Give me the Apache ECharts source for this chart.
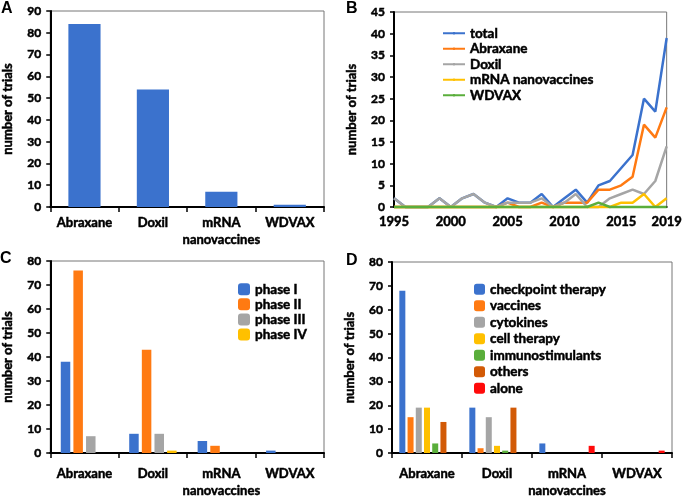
<!DOCTYPE html>
<html>
<head>
<meta charset="utf-8">
<script src="https://cdn.jsdelivr.net/npm/echarts@6/dist/echarts.min.js"></script>
<style>
  html, body { margin: 0; padding: 0; background: #fff; }
  #chart { width: 685px; height: 499px; }
</style>
</head>
<body>
<div id="chart"></div>
<script>
// categories shared by panels A, C, D
const products = ['Abraxane', 'Doxil', 'mRNA\nnanovaccines', 'WDVAX'];

// A: trials per product
const trialsTotal = [84, 54, 7, 1];

// B: trials per year
const years = ['1995', '1996', '1997', '1998', '1999', '2000', '2001', '2002', '2003', '2004',
  '2005', '2006', '2007', '2008', '2009', '2010', '2011', '2012', '2013', '2014',
  '2015', '2016', '2017', '2018', '2019'];
const yearTicks = ['1995', '2000', '2005', '2010', '2015', '2019'];
const totalByYear =    [2, 0, 0, 0, 2, 0, 2, 3, 1, 0, 2, 1, 1, 3, 0, 2, 4, 1, 5, 6, 9, 12, 25, 22, 39];
const abraxaneByYear = [0, 0, 0, 0, 0, 0, 0, 0, 0, 0, 1, 0, 0, 1, 0, 1, 1, 1, 4, 4, 5, 7, 19, 16, 23];
const doxilByYear =    [2, 0, 0, 0, 2, 0, 2, 3, 1, 0, 1, 1, 1, 2, 0, 1, 3, 0, 0, 2, 3, 4, 3, 6, 14];
const mrnaByYear =     [0, 0, 0, 0, 0, 0, 0, 0, 0, 0, 0, 0, 0, 0, 0, 0, 0, 0, 0, 0, 1, 1, 3, 0, 2];
const wdvaxByYear =    [0, 0, 0, 0, 0, 0, 0, 0, 0, 0, 0, 0, 0, 0, 0, 0, 0, 0, 1, 0, 0, 0, 0, 0, 0];

// C: trials per phase
const phaseNames = ['phase I', 'phase II', 'phase III', 'phase IV'];
const phase1 = [38, 8, 5, 1];
const phase2 = [76, 43, 3, 0];
const phase3 = [7, 8, 0, 0];
const phase4 = [0, 1, 0, 0];

// D: combination partners
const comboNames = ['checkpoint therapy', 'vaccines', 'cytokines', 'cell therapy', 'immunostimulants', 'others', 'alone'];
const checkpoint = [68, 19, 4, 0];
const vaccines = [15, 2, 0, 0];
const cytokines = [19, 15, 0, 0];
const cellTherapy = [19, 3, 0, 0];
const immunostim = [4, 1, 0, 0];
const others = [13, 19, 0, 0];
const alone = [0, 0, 3, 1];

const blue = '#3b72cd', orange = '#ff7a12', gray = '#a5a5a5', yellow = '#ffc000',
  green = '#5aae3b', darkOrange = '#d25a06', red = '#ff0a0a';

const font = 'Lato, "Liberation Sans", sans-serif';
// a thin stroke in the text colour makes Lato as heavy as the original's bold face
const txt = {color: '#000', fontWeight: 'bold', fontFamily: font, textBorderColor: '#000', textBorderWidth: 0.5};

const myChart = echarts.init(document.getElementById('chart'), null, {renderer: 'canvas'});

function yAxis(gridIndex, max, interval) {
  return {
    gridIndex, type: 'value', min: 0, max, interval,
    name: 'number of trials', nameLocation: 'middle', nameGap: 36,
    nameTextStyle: {...txt, fontSize: 13},
    axisLine: {show: true, lineStyle: {color: '#000', width: 2}},
    axisTick: {show: true, length: 4, lineStyle: {color: '#000', width: 1.5}},
    axisLabel: {...txt, fontSize: 12, margin: 9},
    splitLine: {show: false}
  };
}

function catAxis(gridIndex, margin) {
  return {
    gridIndex, type: 'category', data: products,
    axisLine: {lineStyle: {color: '#000', width: 2}},
    axisTick: {show: true, length: 5, lineStyle: {color: '#000', width: 1.5}},
    axisLabel: {...txt, fontSize: 13, margin, lineHeight: 17, interval: 0}
  };
}

function bar(name, data, axis, color, width, gap) {
  return {
    name, type: 'bar', data, xAxisIndex: axis, yAxisIndex: axis,
    barWidth: width, barGap: gap,
    itemStyle: {color}
  };
}

function line(name, data, color) {
  return {
    name, type: 'line', data, xAxisIndex: 1, yAxisIndex: 1,
    symbol: 'none', clip: false,
    lineStyle: {color, width: 2.5}, itemStyle: {color}
  };
}

const gridBox = {show: true, borderColor: '#777', borderWidth: 1, backgroundColor: 'transparent'};
const letter = 'bold 16px "Liberation Sans", sans-serif';
const legendText = {...txt, fontSize: 13.5, lineHeight: 14};

const option = {
  animation: false,
  textStyle: {fontFamily: font},
  grid: [
    {left: 48, top: 11, width: 276, height: 196, ...gridBox},
    {left: 394, top: 12, width: 276, height: 195, ...gridBox},
    {left: 48, top: 261, width: 276, height: 198, ...gridBox},
    {left: 392, top: 262, width: 280, height: 197, ...gridBox}
  ],
  xAxis: [
    catAxis(0, 7),
    {
      gridIndex: 1, type: 'category', data: years, boundaryGap: false,
      axisLine: {lineStyle: {color: '#000', width: 2}},
      axisTick: {show: false},
      axisLabel: {
        ...txt, fontSize: 13, margin: 8,
        interval: (i, v) => yearTicks.includes(v)
      }
    },
    catAxis(2, 12),
    catAxis(3, 12)
  ],
  yAxis: [
    yAxis(0, 90, 10),
    yAxis(1, 45, 5),
    yAxis(2, 80, 10),
    yAxis(3, 80, 10)
  ],
  legend: [
    {
      data: ['total', 'Abraxane', 'Doxil', 'mRNA nanovaccines', 'WDVAX'],
      orient: 'vertical', left: 437, top: 21, itemWidth: 22, itemHeight: 3, itemGap: 1,
      textStyle: legendText
    },
    {
      data: phaseNames,
      orient: 'vertical', left: 233, top: 277, itemWidth: 12, itemHeight: 12, itemGap: 0.6,
      textStyle: legendText
    },
    {
      data: comboNames,
      orient: 'vertical', left: 469, top: 277, itemWidth: 11, itemHeight: 11, itemGap: 2,
      textStyle: legendText
    }
  ],
  graphic: [
    {type: 'text', left: 1, top: 1, style: {text: 'A', fill: '#000', font: letter}},
    {type: 'text', left: 346, top: 1, style: {text: 'B', fill: '#000', font: letter}},
    {type: 'text', left: 0, top: 251, style: {text: 'C', fill: '#000', font: letter}},
    {type: 'text', left: 346, top: 253, style: {text: 'D', fill: '#000', font: letter}}
  ],
  series: [
    bar('trials', trialsTotal, 0, blue, '47%', 0),

    line('total', totalByYear, blue),
    line('Abraxane', abraxaneByYear, orange),
    line('Doxil', doxilByYear, gray),
    line('mRNA nanovaccines', mrnaByYear, yellow),
    line('WDVAX', wdvaxByYear, green),

    bar('phase I', phase1, 2, blue, 9.5, '33%'),
    bar('phase II', phase2, 2, orange, 9.5, '33%'),
    bar('phase III', phase3, 2, gray, 9.5, '33%'),
    bar('phase IV', phase4, 2, yellow, 9.5, '33%'),

    bar('checkpoint therapy', checkpoint, 3, blue, 6, '37%'),
    bar('vaccines', vaccines, 3, orange, 6, '37%'),
    bar('cytokines', cytokines, 3, gray, 6, '37%'),
    bar('cell therapy', cellTherapy, 3, yellow, 6, '37%'),
    bar('immunostimulants', immunostim, 3, green, 6, '37%'),
    bar('others', others, 3, darkOrange, 6, '37%'),
    bar('alone', alone, 3, red, 6, '37%')
  ]
};

option && myChart.setOption(option);
</script>
</body>
</html>
